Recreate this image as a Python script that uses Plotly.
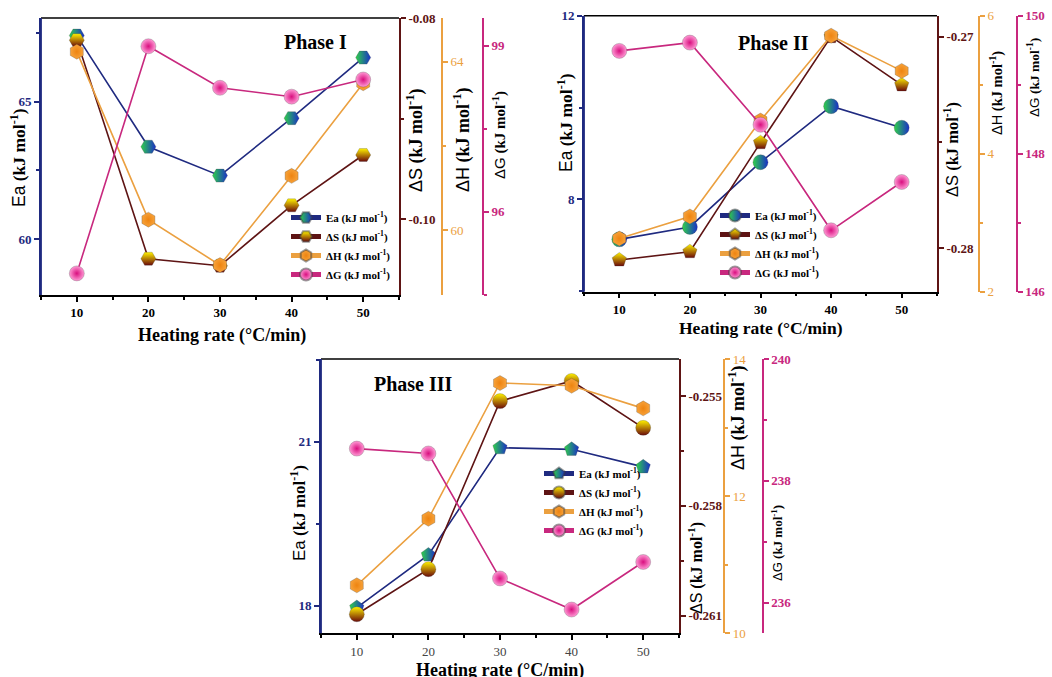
import plotly.graph_objects as go

W, H = 1052, 677

rates = [10, 20, 30, 40, 50]

# Phase I
p1_ea = [67.4, 63.36, 62.31, 64.40, 66.60]
p1_ds = [-0.0822, -0.1039, -0.1046, -0.0986, -0.0936]
p1_dh = [64.24, 60.25, 59.17, 61.29, 63.49]
p1_dg = [94.89, 98.99, 98.24, 98.08, 98.39]

# Phase II
p2_ea = [7.13, 7.40, 8.81, 10.03, 9.56]
p2_ds = [-0.28055, -0.28016, -0.27501, -0.27000, -0.27228]
p2_dh = [2.77, 3.09, 4.48, 5.71, 5.20]
p2_dg = [149.49, 149.61, 148.42, 146.89, 147.59]

# Phase III
p3_ea = [17.97, 18.93, 20.89, 20.86, 20.54]
p3_ds = [-0.26096, -0.25973, -0.25514, -0.25459, -0.25587]
p3_dh = [10.70, 11.67, 13.65, 13.61, 13.28]
p3_dg = [238.53, 238.45, 236.40, 235.89, 236.67]

# tick labels for the entropy axes
p1_ds_ticks = [-0.08, -0.10]
p2_ds_ticks = [-0.27, -0.28]
p3_ds_ticks = [-0.255, -0.258, -0.261]

phase_titles = ["Phase I", "Phase II", "Phase III"]
x_title = "Heating rate (°C/min)"

SERIF = "Liberation Serif"
SANS = "Liberation Sans"
C_EA = "#1f2a80"
C_DS = "#5e1414"
C_DH = "#eba040"
C_DG = "#c8287e"
GREEN = "#2fd04a"
BLUE = "#1a2fc8"


def px(x):
    return x / W


def py(y):
    return 1 - y / H


def lab(sym):
    return (f"<span style='font-family:{SANS};font-weight:normal'>{sym}</span>"
            f" (kJ mol<sup>-1</sup>)")


fig = go.Figure()

panels = [
    dict(data=(p1_ea, p1_ds, p1_dh, p1_dg), x0=41, x1=399, y0=18, y1=295,
         xh=442, xg=483, legend="legend", ea_sym="hexagon2", ds_sym="hexagon2",
         xfont=dict(color="black", weight="bold"),
         ea=dict(range=[57.97, 68.04], dtick=5, mdt=2.5),
         ds=dict(range=[-0.1075, -0.08], vals=p1_ds_ticks, fmt="{:.2f}", mdt=0.01),
         dh=dict(range=[58.46, 65.04], dtick=4, mdt=2),
         dg=dict(range=[94.5, 99.5], dtick=3, mdt=1.5)),
    dict(data=(p2_ea, p2_ds, p2_dh, p2_dg), x0=584, x1=937, y0=15.7, y1=291.7,
         xh=979, xg=1016.7, legend="legend2", ea_sym="circle", ds_sym="pentagon",
         xfont=dict(color="black", weight="bold"),
         ea=dict(range=[5.99, 12.0], dtick=4, mdt=2),
         ds=dict(range=[-0.28205, -0.26901], vals=p2_ds_ticks, fmt="{:.2f}", mdt=0.005),
         dh=dict(range=[2, 6], dtick=2, mdt=1),
         dg=dict(range=[146, 150], dtick=2, mdt=1)),
    dict(data=(p3_ea, p3_ds, p3_dh, p3_dg), x0=321, x1=679, y0=359, y1=633.3,
         xh=724.3, xg=762.7, legend="legend3", ea_sym="pentagon", ds_sym="circle",
         xfont=dict(color="#444444", weight="normal"),
         ea=dict(range=[17.5, 22.51], dtick=3, mdt=1.5),
         ds=dict(range=[-0.26148, -0.25399], vals=p3_ds_ticks, fmt="{:.3f}", mdt=0.0015),
         dh=dict(range=[10, 14], dtick=2, mdt=1),
         dg=dict(range=[235.5, 240.0], dtick=2, mdt=1)),
]

layout = dict(
    template="none",
    width=W, height=H, margin=dict(l=0, r=0, t=0, b=0, pad=0),
    paper_bgcolor="white", plot_bgcolor="rgba(0,0,0,0)", showlegend=True,
    font=dict(family=SERIF, color="black"),
)

annotations = []
shapes = []

for i, p in enumerate(panels):
    xa = "x" if i == 0 else f"x{i+1}"
    ya_ids = [4 * i + k for k in range(1, 5)]
    ya_names = ["y" if n == 1 else f"y{n}" for n in ya_ids]
    ea, ds, dh, dg = p["data"]
    leg = p["legend"]

    specs = [
        (ea, ya_names[0], C_EA, p["ea_sym"], GREEN, "horizontal", BLUE, "Ea (kJ mol<sup>-1</sup>)"),
        (ds, ya_names[1], C_DS, p["ds_sym"], "#fff200", "vertical", "#6a0a0a", "ΔS (kJ mol<sup>-1</sup>)"),
        (dh, ya_names[2], C_DH, "hexagon", "#f7a23a", "radial", "#ee8410", "ΔH (kJ mol<sup>-1</sup>)"),
        (dg, ya_names[3], C_DG, "circle", "#ff9ad5", "radial", "#d90f7f", "ΔG (kJ mol<sup>-1</sup>)"),
    ]
    for vals, yn, lc, sym, mc, gt, gc, name in specs:
        fig.add_trace(go.Scatter(
            x=rates, y=vals, xaxis=xa, yaxis=yn, mode="lines+markers", name=name,
            legend=leg,
            line=dict(color=lc, width=1.6),
            marker=dict(symbol=sym, size=15, color=mc,
                        gradient=dict(type=gt, color=gc),
                        line=dict(width=0.5, color="rgba(60,60,60,0.5)")),
        ))

    xdom = [px(p["x0"]), px(p["x1"])]
    ydom = [py(p["y1"]), py(p["y0"])]
    # frame: top (black) and left (blue) edges
    shapes.append(dict(type="line", xref="paper", yref="paper", x0=xdom[0], x1=xdom[1],
                       y0=ydom[1], y1=ydom[1], line=dict(color="black", width=1.5)))
    shapes.append(dict(type="line", xref="paper", yref="paper", x0=xdom[0], x1=xdom[0],
                       y0=ydom[0], y1=ydom[1], line=dict(color=C_EA, width=1.8)))

    xkey = "xaxis" if i == 0 else f"xaxis{i+1}"
    layout[xkey] = dict(
        domain=xdom, anchor=ya_names[0], range=[5, 55], automargin=False,
        tickmode="linear", tick0=0, dtick=10, ticks="outside", ticklen=5,
        tickwidth=1.5, tickcolor="black",
        minor=dict(dtick=5, tick0=0, ticks="outside", ticklen=3, tickcolor="black"),
        showline=True, linecolor="black", linewidth=1.5,
        showgrid=False, zeroline=False,
        tickfont=dict(family=SERIF, size=13, **p["xfont"]),
    )
    ykeys = ["yaxis" if n == 1 else f"yaxis{n}" for n in ya_ids]
    # Ea axis (left)
    layout[ykeys[0]] = dict(
        domain=ydom, anchor=xa, range=p["ea"]["range"], tickmode="linear", tick0=0,
        automargin=False,
        dtick=p["ea"]["dtick"], ticks="outside", ticklen=5, tickwidth=1.5, tickcolor=C_EA,
        minor=dict(dtick=p["ea"]["mdt"], tick0=0, ticks="outside", ticklen=3, tickcolor=C_EA),
        showline=True, linecolor=C_EA, linewidth=1.8, showgrid=False, zeroline=False,
        tickfont=dict(family=SERIF, size=13, color=C_EA, weight="bold"),
    )
    # dS axis (right frame)
    layout[ykeys[1]] = dict(
        overlaying=ya_names[0], side="right", anchor=xa, range=p["ds"]["range"],
        automargin=False,
        tickmode="array", tickvals=p["ds"]["vals"],
        ticktext=[p["ds"]["fmt"].format(v) for v in p["ds"]["vals"]],
        ticks="outside", ticklen=5, tickwidth=1.5, tickcolor=C_DS,
        minor=dict(dtick=p["ds"]["mdt"], tick0=0, ticks="outside", ticklen=3, tickcolor=C_DS),
        showline=True, linecolor=C_DS, linewidth=1.8, showgrid=False, zeroline=False,
        tickfont=dict(family=SERIF, size=13, color=C_DS, weight="bold"),
    )
    # dH axis
    layout[ykeys[2]] = dict(
        overlaying=ya_names[0], side="right", anchor="free", position=px(p["xh"]),
        automargin=False,
        range=p["dh"]["range"], tickmode="linear", tick0=0, dtick=p["dh"]["dtick"],
        ticks="outside", ticklen=5, tickwidth=1.5, tickcolor=C_DH,
        minor=dict(dtick=p["dh"]["mdt"], tick0=0, ticks="outside", ticklen=3, tickcolor=C_DH),
        showline=True, linecolor=C_DH, linewidth=1.8, showgrid=False, zeroline=False,
        tickfont=dict(family=SERIF, size=13, color=C_DH),
    )
    # dG axis
    layout[ykeys[3]] = dict(
        overlaying=ya_names[0], side="right", anchor="free", position=px(p["xg"]),
        automargin=False,
        range=p["dg"]["range"], tickmode="linear", tick0=0, dtick=p["dg"]["dtick"],
        ticks="outside", ticklen=5, tickwidth=1.5, tickcolor=C_DG,
        minor=dict(dtick=p["dg"]["mdt"], tick0=0, ticks="outside", ticklen=3, tickcolor=C_DG),
        showline=True, linecolor=C_DG, linewidth=1.8, showgrid=False, zeroline=False,
        tickfont=dict(family=SERIF, size=13, color=C_DG, weight="bold"),
    )

legend_pos = [(286, 203), (715, 201), (539, 459)]
for i, (lx, ly) in enumerate(legend_pos):
    key = "legend" if i == 0 else f"legend{i+1}"
    layout[key] = dict(
        x=px(lx), y=py(ly), xanchor="left", yanchor="top",
        bgcolor="rgba(0,0,0,0)", borderwidth=0, itemwidth=30,
        tracegroupgap=0, itemsizing="constant",
        font=dict(family=SERIF, size=11, color="black", weight="bold"),
    )

# Axis titles and panel labels
def ann(x, y, text, size, color, angle=0, weight="bold"):
    annotations.append(dict(
        x=px(x), y=py(y), xref="paper", yref="paper", text=text, showarrow=False,
        textangle=angle, xanchor="center", yanchor="middle",
        font=dict(family=SERIF, size=size, color=color, weight=weight),
    ))

ea_title = f"<span style='font-family:{SANS};font-weight:normal'>Ea</span> (kJ mol<sup>-1</sup>)"
ds_title = lab("ΔS")
dh_title = lab("ΔH")
dg_title = lab("ΔG")

# Phase I
ann(18, 158, ea_title, 17.5, "black", -90)
ann(415, 140, ds_title, 18, "black", -90)
ann(462, 140, dh_title, 18, "black", -90)
ann(500, 135, dg_title, 15, "black", -90)
ann(315, 42, phase_titles[0], 20, "black")
ann(222, 335, x_title, 18, "black")
# Phase II
ann(565, 123, ea_title, 17.5, "black", -90)
ann(952, 150, ds_title, 16.5, "black", -90)
ann(996, 93, dh_title, 14.5, "black", -90)
ann(1034, 78, dg_title, 13.5, "black", -90)
ann(773, 43, phase_titles[1], 20, "black")
ann(761, 328, x_title, 17.5, "black")
# Phase III
ann(298, 513, ea_title, 17, "black", -90)
ann(695, 568, ds_title, 16, "black", -90)
ann(737, 418, dh_title, 18, "black", -90)
ann(777, 543, dg_title, 13, "black", -90)
ann(413, 384, phase_titles[2], 20, "black")
ann(500, 670, x_title, 18, "black")

layout["annotations"] = annotations
layout["shapes"] = shapes
fig.update_layout(**layout)
fig.write_html("out.html", config={"displayModeBar": False},
               post_script="document.body.style.margin='0';document.body.style.overflow='hidden';")
